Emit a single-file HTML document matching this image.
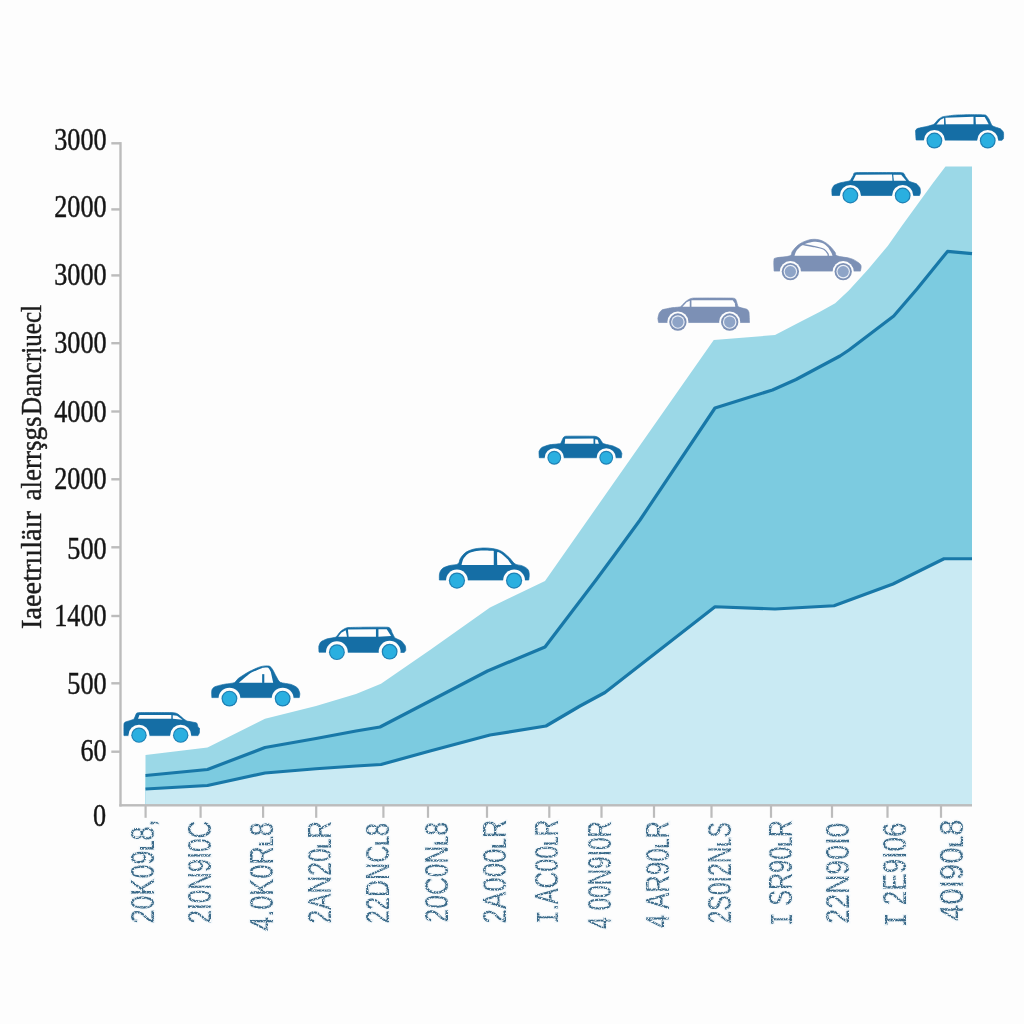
<!DOCTYPE html>
<html><head><meta charset="utf-8"><title>Chart</title>
<style>
html,body{margin:0;padding:0;background:#fdfdfd;}
body{width:1024px;height:1024px;overflow:hidden;font-family:"Liberation Sans",sans-serif;}
svg{display:block;}
.yl{font-family:"Liberation Serif",serif;font-size:31px;fill:#151515;stroke:#151515;stroke-width:0.45px;}
.yt{font-family:"Liberation Serif",serif;font-size:28.5px;fill:#1c1c1c;stroke:#1c1c1c;stroke-width:0.45px;}
.xl{font-family:"Liberation Sans",sans-serif;font-size:32.5px;fill:#3b6a89;paint-order:stroke;stroke:#eef5f9;stroke-width:2.5px;}
</style></head><body>
<svg width="1024" height="1024" viewBox="0 0 1024 1024">
<defs><filter id="spk" x="-5%" y="-5%" width="110%" height="110%"><feTurbulence type="fractalNoise" baseFrequency="0.7" numOctaves="2" seed="7" result="t"/><feColorMatrix in="t" type="matrix" values="0 0 0 0 0  0 0 0 0 0  0 0 0 0 0  0 0 0 -4 2.95" result="m"/><feComposite in="SourceGraphic" in2="m" operator="in"/></filter></defs>
<rect width="1024" height="1024" fill="#fdfdfd"/>
<polygon points="145.50,755.00 207.50,747.50 265.00,718.75 316.00,706.00 356.00,694.00 381.00,683.75 430.00,650.00 490.00,607.50 545.00,581.00 562.50,556.00 713.75,340.00 775.00,335.00 800.00,322.00 819.50,312.00 835.20,303.30 848.80,290.60 868.40,269.10 887.90,245.70 901.60,226.20 917.20,204.70 932.80,183.20 945.50,166.40 972.00,166.40 972.00,805.00 145.50,805.00" fill="#9bd8e7"/>
<polygon points="145.50,775.50 207.50,769.50 265.00,747.50 316.00,738.50 356.00,731.00 380.00,727.00 430.00,701.00 487.50,671.00 545.00,647.00 596.00,580.00 613.75,556.00 640.00,520.00 715.00,408.00 772.50,390.00 796.00,379.50 840.00,356.00 849.00,350.00 893.75,316.00 917.20,288.70 947.50,251.40 972.00,253.60 972.00,805.00 145.50,805.00" fill="#7ccbe0"/>
<polygon points="145.50,789.00 207.50,785.50 265.00,773.00 316.00,768.75 356.00,766.00 381.00,764.50 430.00,751.00 490.00,735.00 546.00,726.00 580.00,706.00 605.00,692.50 715.00,606.75 775.00,609.00 834.00,605.75 893.00,584.00 944.00,558.75 972.00,558.75 972.00,805.00 145.50,805.00" fill="#c9eaf3"/>
<polyline points="145.50,775.50 207.50,769.50 265.00,747.50 316.00,738.50 356.00,731.00 380.00,727.00 430.00,701.00 487.50,671.00 545.00,647.00 596.00,580.00 613.75,556.00 640.00,520.00 715.00,408.00 772.50,390.00 796.00,379.50 840.00,356.00 849.00,350.00 893.75,316.00 917.20,288.70 947.50,251.40 972.00,253.60" fill="none" stroke="#1878a8" stroke-width="3.2" stroke-linejoin="round"/>
<polyline points="145.50,789.00 207.50,785.50 265.00,773.00 316.00,768.75 356.00,766.00 381.00,764.50 430.00,751.00 490.00,735.00 546.00,726.00 580.00,706.00 605.00,692.50 715.00,606.75 775.00,609.00 834.00,605.75 893.00,584.00 944.00,558.75 972.00,558.75" fill="none" stroke="#1878a8" stroke-width="3.2" stroke-linejoin="round"/>
<rect x="119.3" y="142.1" width="2.4" height="664.4" fill="#bcbcbc"/>
<rect x="119.3" y="804.1" width="852.7" height="2.4" fill="#bcbcbc"/>
<rect x="111.3" y="142.1" width="9" height="2.4" fill="#bcbcbc"/>
<rect x="111.3" y="208.2" width="9" height="2.4" fill="#bcbcbc"/>
<rect x="111.3" y="274.2" width="9" height="2.4" fill="#bcbcbc"/>
<rect x="111.3" y="342.0" width="9" height="2.4" fill="#bcbcbc"/>
<rect x="111.3" y="410.3" width="9" height="2.4" fill="#bcbcbc"/>
<rect x="111.3" y="478.1" width="9" height="2.4" fill="#bcbcbc"/>
<rect x="111.3" y="546.1" width="9" height="2.4" fill="#bcbcbc"/>
<rect x="111.3" y="614.8" width="9" height="2.4" fill="#bcbcbc"/>
<rect x="111.3" y="682.1" width="9" height="2.4" fill="#bcbcbc"/>
<rect x="111.3" y="750.5" width="9" height="2.4" fill="#bcbcbc"/>
<rect x="144.5" y="805" width="2.2" height="12.8" fill="#bcbcbc"/>
<rect x="199.5" y="805" width="2.2" height="12.8" fill="#bcbcbc"/>
<rect x="262.0" y="805" width="2.2" height="12.8" fill="#bcbcbc"/>
<rect x="315.1" y="805" width="2.2" height="12.8" fill="#bcbcbc"/>
<rect x="382.3" y="805" width="2.2" height="12.8" fill="#bcbcbc"/>
<rect x="426.9" y="805" width="2.2" height="12.8" fill="#bcbcbc"/>
<rect x="485.9" y="805" width="2.2" height="12.8" fill="#bcbcbc"/>
<rect x="548.2" y="805" width="2.2" height="12.8" fill="#bcbcbc"/>
<rect x="600.4" y="805" width="2.2" height="12.8" fill="#bcbcbc"/>
<rect x="652.9" y="805" width="2.2" height="12.8" fill="#bcbcbc"/>
<rect x="710.4" y="805" width="2.2" height="12.8" fill="#bcbcbc"/>
<rect x="769.9" y="805" width="2.2" height="12.8" fill="#bcbcbc"/>
<rect x="830.9" y="805" width="2.2" height="12.8" fill="#bcbcbc"/>
<rect x="886.4" y="805" width="2.2" height="12.8" fill="#bcbcbc"/>
<rect x="939.9" y="805" width="2.2" height="12.8" fill="#bcbcbc"/>
<g opacity="0.999">
<text class="yl" transform="translate(106.6,150.3) scale(0.845,1)" text-anchor="end">3000</text>
<text class="yl" transform="translate(106.6,216.5) scale(0.845,1)" text-anchor="end">2000</text>
<text class="yl" transform="translate(106.6,285.3) scale(0.845,1)" text-anchor="end">3000</text>
<text class="yl" transform="translate(106.6,353) scale(0.845,1)" text-anchor="end">3000</text>
<text class="yl" transform="translate(106.6,421.7) scale(0.845,1)" text-anchor="end">4000</text>
<text class="yl" transform="translate(106.6,489.2) scale(0.845,1)" text-anchor="end">2000</text>
<text class="yl" transform="translate(106.6,558.5) scale(0.845,1)" text-anchor="end">500</text>
<text class="yl" transform="translate(106.6,626) scale(0.845,1)" text-anchor="end">1400</text>
<text class="yl" transform="translate(106.6,693.5) scale(0.845,1)" text-anchor="end">500</text>
<text class="yl" transform="translate(106.6,760.8) scale(0.845,1)" text-anchor="end">60</text>
<text class="yl" transform="translate(106.2,826.2) scale(0.845,1)" text-anchor="end">0</text>
<text class="yt" transform="translate(40.9,629) rotate(-90)" textLength="118" lengthAdjust="spacingAndGlyphs">Iaeetrııläır</text>
<text class="yt" transform="translate(40.9,500.5) rotate(-90)" textLength="84" lengthAdjust="spacingAndGlyphs">alerrşgs</text>
<text class="yt" transform="translate(40.9,415) rotate(-90)" textLength="110" lengthAdjust="spacingAndGlyphs">Dancrịuecl</text>
</g>
<g filter="url(#spk)">
<text class="xl" transform="translate(154.3,923.5) rotate(-90)" textLength="104.0" lengthAdjust="spacingAndGlyphs">20K09<tspan font-size="21" font-weight="bold">L</tspan>8,</text>
<text class="xl" transform="translate(211.4,923.5) rotate(-90)" textLength="102.5" lengthAdjust="spacingAndGlyphs">2I0N9I0C</text>
<text class="xl" transform="translate(272.7,931) rotate(-90)" textLength="109.0" lengthAdjust="spacingAndGlyphs">4.0K0R<tspan font-size="21" font-weight="bold">L</tspan>8</text>
<text class="xl" transform="translate(330.7,923.5) rotate(-90)" textLength="102.5" lengthAdjust="spacingAndGlyphs">2AN20<tspan font-size="21" font-weight="bold">L</tspan>R</text>
<text class="xl" transform="translate(388.7,923.5) rotate(-90)" textLength="100.5" lengthAdjust="spacingAndGlyphs">22DNC<tspan font-size="21" font-weight="bold">L</tspan>8</text>
<text class="xl" transform="translate(447.7,922.5) rotate(-90)" textLength="100.5" lengthAdjust="spacingAndGlyphs">20C0N<tspan font-size="21" font-weight="bold">L</tspan>8</text>
<text class="xl" transform="translate(505.7,923.5) rotate(-90)" textLength="104.0" lengthAdjust="spacingAndGlyphs">2A000<tspan font-size="21" font-weight="bold">L</tspan>R</text>
<text class="xl" transform="translate(557.7,924) rotate(-90)" textLength="104.5" lengthAdjust="spacingAndGlyphs"><tspan font-family="Liberation Mono" font-size="31">I</tspan>.AC00<tspan font-size="21" font-weight="bold">L</tspan>R</text>
<text class="xl" transform="translate(611.1,929.5) rotate(-90)" textLength="108.5" lengthAdjust="spacingAndGlyphs">4 00N9I0R</text>
<text class="xl" transform="translate(669.4,928) rotate(-90)" textLength="107.0" lengthAdjust="spacingAndGlyphs">4 AR90<tspan font-size="21" font-weight="bold">L</tspan>R</text>
<text class="xl" transform="translate(730.7,923.5) rotate(-90)" textLength="101.5" lengthAdjust="spacingAndGlyphs">2S0I2N<tspan font-size="21" font-weight="bold">L</tspan>S</text>
<text class="xl" transform="translate(791.7,926) rotate(-90)" textLength="106.0" lengthAdjust="spacingAndGlyphs"><tspan font-family="Liberation Mono" font-size="31">I</tspan> SR90<tspan font-size="21" font-weight="bold">L</tspan>R</text>
<text class="xl" transform="translate(848.7,923.75) rotate(-90)" textLength="101.2" lengthAdjust="spacingAndGlyphs">22N90I0</text>
<text class="xl" transform="translate(905.7,927.5) rotate(-90)" textLength="105.0" lengthAdjust="spacingAndGlyphs"><tspan font-family="Liberation Mono" font-size="31">I</tspan> 2E9I06</text>
<text class="xl" transform="translate(962.7,921) rotate(-90)" textLength="101.5" lengthAdjust="spacingAndGlyphs">40I90<tspan font-size="21" font-weight="bold">L</tspan>8</text>
</g>
<path d="M123.97,735.62 C123.97,734.92 123.88,724.72 123.97,723.91 C124.05,723.09 124.78,722.31 125.37,722.03 C125.97,721.75 133.17,719.70 133.81,719.22 C134.46,718.74 135.87,714.46 136.16,714.06 C136.44,713.67 136.28,712.74 138.50,712.66 C140.72,712.57 170.82,712.57 173.19,712.66 C175.55,712.74 177.25,713.70 177.87,714.06 C178.49,714.43 182.94,718.33 183.50,718.75 C184.06,719.17 186.46,720.84 187.25,721.09 C188.04,721.35 195.98,722.60 196.62,722.97 C197.27,723.33 197.86,726.88 198.03,727.19 C198.20,727.50 199.35,727.79 199.43,728.12 C199.52,728.46 199.52,732.36 199.43,732.81 C199.35,733.26 198.11,735.46 198.03,735.62Z" fill="#156ea5" stroke="#156ea5" stroke-width="0.7" stroke-linejoin="round"/><path d="M138.03,718.75 L139.44,715.00 L171.31,715.00 L171.31,718.75Z" fill="#fdfdfd"/><path d="M172.72,718.75 L172.72,715.19 L176.94,715.75 L182.56,719.69Z" fill="#fdfdfd"/><circle cx="138.97" cy="735.16" r="10.50" fill="#fdfdfd"/><circle cx="138.97" cy="735.16" r="7.70" fill="#1f80b4"/><circle cx="138.97" cy="735.16" r="6.52" fill="#2aafe0"/><circle cx="180.69" cy="735.16" r="10.50" fill="#fdfdfd"/><circle cx="180.69" cy="735.16" r="7.70" fill="#1f80b4"/><circle cx="180.69" cy="735.16" r="6.52" fill="#2aafe0"/>
<path d="M211.86,697.60 C211.86,696.62 211.47,691.71 211.86,690.27 C212.25,688.84 213.23,687.64 214.79,686.86 C216.35,686.07 220.97,684.97 223.58,684.41 C226.18,683.85 232.37,683.44 234.32,682.66 C236.27,681.88 236.27,680.01 238.23,678.55 C240.18,677.10 245.97,673.31 248.97,671.72 C251.96,670.13 258.02,667.40 260.69,666.64 C263.36,665.89 267.43,665.70 268.99,666.05 C270.55,666.41 271.43,667.87 272.41,669.28 C273.38,670.68 275.27,674.87 276.31,676.60 C277.35,678.33 278.27,681.22 280.22,682.27 C282.17,683.31 288.68,683.67 290.96,684.41 C293.24,685.16 296.14,686.66 297.31,687.83 C298.48,689.00 299.49,691.90 299.75,693.20 C300.01,694.51 299.33,697.01 299.26,697.60Z" fill="#156ea5" stroke="#156ea5" stroke-width="0.7" stroke-linejoin="round"/><path d="M239.01,682.66 C240.10,681.74 247.68,674.92 249.95,673.48 C252.21,672.03 259.85,668.77 261.66,668.20 C263.48,667.64 267.19,667.44 268.11,667.81 C269.03,668.18 270.57,671.50 270.84,671.91 L273.19,682.66Z" fill="#fdfdfd"/><rect x="262.15" y="674.16" width="2.15" height="8.79" fill="#156ea5"/><circle cx="229.44" cy="698.57" r="10.94" fill="#fdfdfd"/><circle cx="229.44" cy="698.57" r="7.92" fill="#1f80b4"/><circle cx="229.44" cy="698.57" r="6.70" fill="#2aafe0"/><circle cx="282.66" cy="698.57" r="10.94" fill="#fdfdfd"/><circle cx="282.66" cy="698.57" r="7.92" fill="#1f80b4"/><circle cx="282.66" cy="698.57" r="6.70" fill="#2aafe0"/>
<path d="M319.03,652.18 C319.02,651.79 318.72,647.00 318.84,646.32 C318.95,645.64 320.27,642.41 320.79,641.93 C321.31,641.44 325.64,639.32 326.65,639.00 C327.66,638.67 335.01,637.53 335.93,637.04 C336.84,636.55 339.51,632.30 340.32,631.67 C341.13,631.04 344.94,627.86 348.13,627.57 C351.32,627.28 385.24,626.94 388.17,627.28 C391.10,627.62 391.62,631.93 392.08,632.65 C392.53,633.36 394.39,637.47 395.01,638.02 C395.63,638.57 400.67,640.43 401.36,640.95 C402.04,641.47 404.97,645.21 405.26,645.83 C405.55,646.45 405.82,649.79 405.75,650.23 C405.68,650.66 404.38,652.23 404.29,652.38Z" fill="#156ea5" stroke="#156ea5" stroke-width="0.7" stroke-linejoin="round"/><path d="M338.17,636.75 L341.30,632.65 L345.69,630.21 L346.96,636.75Z" fill="#fdfdfd"/><path d="M348.62,636.75 L347.94,629.52 L375.96,629.23 L375.96,636.75Z" fill="#fdfdfd"/><path d="M378.41,636.75 L378.41,629.23 L386.71,629.23 L391.10,636.07Z" fill="#fdfdfd"/><circle cx="336.90" cy="652.18" r="10.94" fill="#fdfdfd"/><circle cx="336.90" cy="652.18" r="7.92" fill="#1f80b4"/><circle cx="336.90" cy="652.18" r="6.70" fill="#2aafe0"/><circle cx="389.64" cy="651.69" r="10.94" fill="#fdfdfd"/><circle cx="389.64" cy="651.69" r="7.92" fill="#1f80b4"/><circle cx="389.64" cy="651.69" r="6.70" fill="#2aafe0"/>
<path d="M439.37,580.04 C439.42,578.90 439.09,575.16 439.66,573.20 C440.23,571.25 441.13,569.59 442.79,568.32 C444.45,567.05 447.10,566.32 449.62,565.59 C452.15,564.85 456.14,565.10 457.93,563.93 C459.72,562.75 459.15,560.43 460.37,558.55 C461.59,556.68 463.13,554.24 465.25,552.70 C467.37,551.15 470.13,550.06 473.06,549.28 C475.99,548.50 479.57,548.12 482.83,548.01 C486.08,547.89 489.50,548.06 492.59,548.59 C495.69,549.13 498.62,549.73 501.38,551.23 C504.15,552.73 506.92,555.46 509.20,557.58 C511.47,559.69 512.86,562.54 515.05,563.93 C517.25,565.31 520.26,564.98 522.38,565.88 C524.49,566.77 526.61,567.91 527.75,569.30 C528.89,570.68 529.05,572.39 529.21,574.18 C529.38,575.97 528.81,579.06 528.73,580.04Z" fill="#156ea5" stroke="#156ea5" stroke-width="0.7" stroke-linejoin="round"/><path d="M461.54,564.90 C461.77,564.12 462.48,560.50 463.30,559.04 C464.12,557.58 466.13,554.99 467.69,553.96 C469.25,552.94 473.00,551.78 475.02,551.33 C477.03,550.87 480.33,550.60 482.83,550.55 C485.33,550.49 492.31,550.89 493.77,550.94 L493.77,564.90Z" fill="#fdfdfd"/><path d="M497.28,564.90 C497.28,563.63 496.77,553.25 497.28,552.21 C497.79,551.16 501.31,553.74 502.36,554.45 C503.40,555.17 507.19,558.85 507.73,559.34 L511.73,564.90Z" fill="#fdfdfd"/><circle cx="456.95" cy="580.53" r="10.94" fill="#fdfdfd"/><circle cx="456.95" cy="580.53" r="8.12" fill="#1f80b4"/><circle cx="456.95" cy="580.53" r="6.88" fill="#2aafe0"/><circle cx="514.08" cy="580.53" r="10.94" fill="#fdfdfd"/><circle cx="514.08" cy="580.53" r="8.12" fill="#1f80b4"/><circle cx="514.08" cy="580.53" r="6.88" fill="#2aafe0"/>
<path d="M539.32,457.74 C539.30,457.32 538.87,452.07 539.03,451.39 C539.19,450.71 541.06,447.93 541.77,447.48 C542.47,447.04 548.34,445.01 549.58,444.75 C550.82,444.49 559.44,443.98 560.32,443.58 C561.20,443.17 562.40,439.18 562.76,438.70 C563.12,438.21 563.58,436.42 565.69,436.25 C567.81,436.09 592.25,436.12 594.50,436.25 C596.75,436.38 598.80,437.72 599.38,438.21 C599.97,438.70 602.38,443.06 603.29,443.58 C604.20,444.10 611.95,445.63 613.05,446.02 C614.16,446.41 619.30,448.95 619.89,449.44 C620.48,449.93 621.75,452.79 621.84,453.34 C621.94,453.90 621.39,457.45 621.36,457.74Z" fill="#156ea5" stroke="#156ea5" stroke-width="0.7" stroke-linejoin="round"/><path d="M564.71,443.77 L565.20,438.70 L593.52,438.50 L593.52,443.77Z" fill="#fdfdfd"/><path d="M595.28,443.77 L595.28,439.18 L597.62,439.67 L598.89,443.77Z" fill="#fdfdfd"/><circle cx="554.27" cy="457.74" r="9.57" fill="#fdfdfd"/><circle cx="554.27" cy="457.74" r="6.91" fill="#1f80b4"/><circle cx="554.27" cy="457.74" r="5.84" fill="#2aafe0"/><circle cx="606.22" cy="457.74" r="9.57" fill="#fdfdfd"/><circle cx="606.22" cy="457.74" r="6.91" fill="#1f80b4"/><circle cx="606.22" cy="457.74" r="5.84" fill="#2aafe0"/>
<path d="M658.60,322.53 C658.55,322.26 657.86,319.08 657.89,318.47 C657.92,317.86 658.83,313.97 659.11,313.39 C659.39,312.82 661.34,310.21 662.16,309.84 C662.97,309.46 670.08,308.01 671.30,307.80 C672.52,307.60 679.49,307.20 680.44,306.79 C681.39,306.38 684.70,302.29 685.52,301.71 C686.33,301.14 689.44,298.39 692.63,298.16 C695.81,297.92 730.34,297.99 733.25,298.16 C736.16,298.33 735.96,300.12 736.30,300.70 C736.64,301.27 737.62,306.21 738.33,306.79 C739.04,307.36 746.25,308.96 746.96,309.33 C747.67,309.70 748.82,311.50 748.99,312.38 C749.16,313.26 749.47,321.85 749.50,322.53Z" fill="#7c90b5" stroke="#7c90b5" stroke-width="0.7" stroke-linejoin="round"/><path d="M682.47,306.79 L686.53,302.22 L689.78,300.70 L689.78,306.79Z" fill="#fdfdfd"/><path d="M691.41,306.79 L691.41,300.19 L732.74,300.19 L734.77,303.23 L735.28,306.79Z" fill="#fdfdfd"/><circle cx="677.90" cy="322.02" r="10.56" fill="#fdfdfd"/><circle cx="677.90" cy="322.02" r="8.67" fill="#7c90b5"/><circle cx="677.90" cy="322.02" r="6.79" fill="#e9eef6"/><circle cx="677.90" cy="322.02" r="5.63" fill="#8ea4c7"/><circle cx="729.70" cy="322.02" r="10.56" fill="#fdfdfd"/><circle cx="729.70" cy="322.02" r="8.67" fill="#7c90b5"/><circle cx="729.70" cy="322.02" r="6.79" fill="#e9eef6"/><circle cx="729.70" cy="322.02" r="5.63" fill="#8ea4c7"/>
<path d="M774.13,271.10 C774.09,269.32 773.58,262.64 773.92,260.44 C774.26,258.24 773.50,258.66 776.16,257.90 C778.81,257.14 787.16,256.97 789.87,255.87 C792.58,254.77 790.97,253.16 792.41,251.30 C793.85,249.44 796.13,246.47 798.50,244.70 C800.87,242.92 803.92,241.53 806.63,240.63 C809.33,239.74 812.04,239.23 814.75,239.31 C817.46,239.40 820.42,240.07 822.88,241.14 C825.33,242.21 827.45,243.85 829.48,245.71 C831.51,247.57 833.79,250.62 835.06,252.31 C836.33,254.01 834.56,254.85 837.09,255.87 C839.63,256.88 846.91,257.39 850.30,258.41 C853.68,259.42 855.63,260.78 857.41,261.96 C859.19,263.15 860.45,263.99 860.96,265.52 C861.47,267.04 860.54,270.17 860.45,271.10Z" fill="#7c90b5" stroke="#7c90b5" stroke-width="0.7" stroke-linejoin="round"/><path d="M794.44,255.87 C794.71,255.19 795.52,252.14 796.47,250.79 C797.42,249.44 799.92,246.79 801.55,245.71 C803.17,244.63 806.76,243.21 808.66,242.66 C810.55,242.12 813.87,241.58 815.77,241.65 C817.66,241.72 821.25,242.43 822.88,243.17 C824.50,243.92 826.80,245.95 827.95,247.23 C829.11,248.52 831.03,252.08 831.51,252.82 L832.52,255.87Z" fill="#fdfdfd"/><path d="M803.58,244.70 C805.44,245.03 811.37,245.97 814.75,246.73 C818.14,247.49 821.69,248.08 823.89,249.27 C826.09,250.45 827.24,252.69 827.95,253.84 C828.67,254.99 828.12,255.78 828.16,256.17" fill="none" stroke="#7c90b5" stroke-width="1.3" stroke-linecap="round"/><circle cx="790.38" cy="271.61" r="10.56" fill="#fdfdfd"/><circle cx="790.38" cy="271.61" r="8.67" fill="#7c90b5"/><circle cx="790.38" cy="271.61" r="6.79" fill="#e9eef6"/><circle cx="790.38" cy="271.61" r="5.63" fill="#8ea4c7"/><circle cx="843.19" cy="271.61" r="10.56" fill="#fdfdfd"/><circle cx="843.19" cy="271.61" r="8.67" fill="#7c90b5"/><circle cx="843.19" cy="271.61" r="6.79" fill="#e9eef6"/><circle cx="843.19" cy="271.61" r="5.63" fill="#8ea4c7"/>
<path d="M832.09,195.52 C832.08,195.11 831.76,190.10 831.89,189.42 C832.03,188.75 833.57,185.80 834.13,185.36 C834.68,184.92 839.17,183.13 840.22,182.82 C841.27,182.52 848.99,181.30 849.87,180.79 C850.75,180.28 853.02,175.75 853.42,175.20 C853.83,174.66 852.75,172.83 855.96,172.66 C859.18,172.49 898.38,172.43 901.67,172.66 C904.95,172.90 904.71,175.64 905.22,176.22 C905.73,176.79 908.54,180.79 909.28,181.30 C910.03,181.80 915.68,183.40 916.39,183.84 C917.10,184.28 919.68,187.32 919.95,187.90 C920.22,188.47 920.49,191.96 920.45,192.47 C920.42,192.98 919.51,195.31 919.44,195.52Z" fill="#156ea5" stroke="#156ea5" stroke-width="0.7" stroke-linejoin="round"/><path d="M852.91,180.79 L855.96,174.70 L892.02,174.39 L892.52,180.79Z" fill="#fdfdfd"/><path d="M893.84,180.79 L893.24,174.70 L901.16,174.70 L906.24,180.79Z" fill="#fdfdfd"/><circle cx="850.38" cy="195.52" r="10.56" fill="#fdfdfd"/><circle cx="850.38" cy="195.52" r="7.92" fill="#1f80b4"/><circle cx="850.38" cy="195.52" r="6.70" fill="#2aafe0"/><circle cx="902.68" cy="195.52" r="10.56" fill="#fdfdfd"/><circle cx="902.68" cy="195.52" r="7.92" fill="#1f80b4"/><circle cx="902.68" cy="195.52" r="6.70" fill="#2aafe0"/>
<path d="M916.13,140.02 C916.09,139.32 915.47,131.23 915.62,130.38 C915.77,129.52 917.30,128.64 918.16,128.34 C919.01,128.05 926.14,126.61 927.30,126.31 C928.45,126.01 933.08,124.80 933.90,124.28 C934.72,123.76 937.80,119.76 938.47,119.20 C939.14,118.64 941.85,116.96 943.04,116.66 C944.23,116.37 952.82,115.29 954.72,115.14 C956.62,114.99 966.70,114.65 968.94,114.63 C971.17,114.62 983.74,114.64 985.19,114.94 C986.64,115.24 988.22,117.90 988.74,118.70 C989.26,119.49 991.44,125.06 992.30,125.80 C993.15,126.55 999.60,128.37 1000.42,128.85 C1001.24,129.34 1003.25,131.70 1003.47,132.41 C1003.69,133.11 1003.58,137.92 1003.47,138.50 C1003.36,139.08 1002.06,140.19 1001.95,140.33Z" fill="#156ea5" stroke="#156ea5" stroke-width="0.7" stroke-linejoin="round"/><path d="M936.44,124.48 L940.50,119.71 L944.06,117.98 L944.06,124.48Z" fill="#fdfdfd"/><path d="M945.78,124.28 L945.38,117.68 L973.51,116.66 L973.51,124.28Z" fill="#fdfdfd"/><path d="M975.84,124.28 L975.54,116.97 L984.68,116.97 L988.74,124.28Z" fill="#fdfdfd"/><circle cx="934.41" cy="140.53" r="10.56" fill="#fdfdfd"/><circle cx="934.41" cy="140.53" r="7.92" fill="#1f80b4"/><circle cx="934.41" cy="140.53" r="6.70" fill="#2aafe0"/><circle cx="987.73" cy="140.53" r="10.56" fill="#fdfdfd"/><circle cx="987.73" cy="140.53" r="7.92" fill="#1f80b4"/><circle cx="987.73" cy="140.53" r="6.70" fill="#2aafe0"/>
</svg></body></html>
